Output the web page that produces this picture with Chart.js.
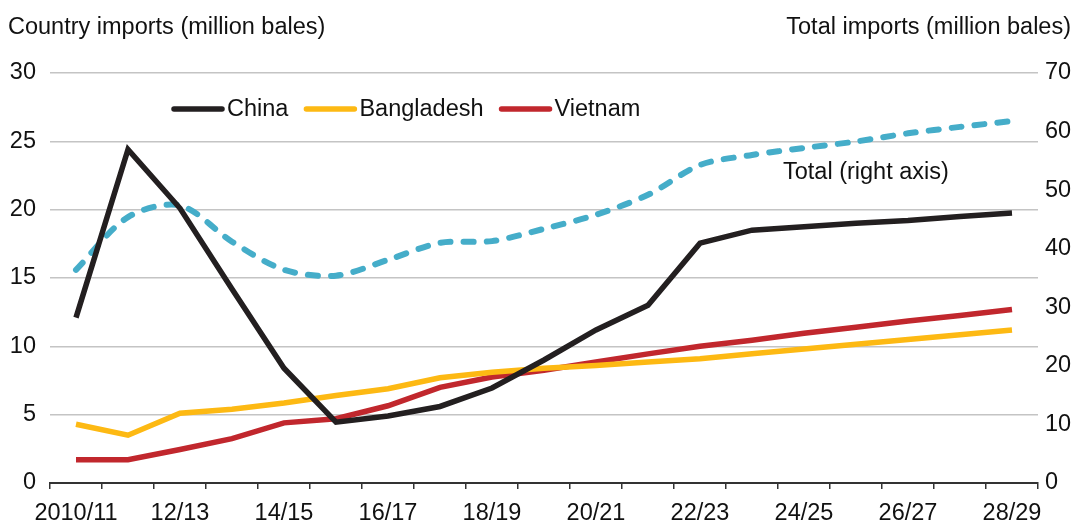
<!DOCTYPE html>
<html>
<head>
<meta charset="utf-8">
<script src="https://cdn.jsdelivr.net/npm/chart.js@4/dist/chart.umd.min.js"></script>
<style>
  html, body { margin: 0; padding: 0; background: #fff; }
  #wrap { position: relative; width: 1075px; height: 525px; }
  canvas { position: absolute; left: 0; top: 0; }
  .ttl { position: absolute; font-family: "Liberation Sans", Arial, Helvetica, sans-serif; font-size: 23.5px; color: #111; white-space: nowrap; line-height: 1; }
</style>
</head>
<body>
<div id="wrap">
  <canvas id="c" width="1075" height="525"></canvas>
  <div class="ttl" style="left:8px; top:15px;">Country imports (million bales)</div>
  <div class="ttl" style="right:4px; top:15px;">Total imports (million bales)</div>
  <div class="ttl" style="left:783px; top:160px;">Total (right axis)</div>
</div>
<script>
const categories = ["2010/11","11/12","12/13","13/14","14/15","15/16","16/17","17/18","18/19","19/20","20/21","21/22","22/23","23/24","24/25","25/26","26/27","27/28","28/29"];
const china      = [12.1, 24.4, 20.1, 14.2, 8.4, 4.45, 4.9, 5.6, 6.95, 9.0, 11.2, 13.0, 17.55, 18.5, 18.75, 19.0, 19.2, 19.5, 19.75];
const bangladesh = [4.3, 3.5, 5.1, 5.4, 5.85, 6.4, 6.9, 7.7, 8.1, 8.4, 8.6, 8.85, 9.1, 9.45, 9.8, 10.15, 10.5, 10.85, 11.2];
const vietnam    = [1.7, 1.7, 2.45, 3.25, 4.4, 4.7, 5.65, 7.0, 7.75, 8.25, 8.85, 9.45, 10.0, 10.45, 10.95, 11.4, 11.85, 12.25, 12.7];
const total      = [36.4, 45.4, 47.4, 41.2, 36.4, 35.4, 38.1, 41.0, 41.3, 43.4, 45.8, 49.2, 54.3, 56.0, 57.2, 58.3, 59.7, 60.8, 61.8];
const leftTicks  = [0, 5, 10, 15, 20, 25, 30];
const rightTicks = [0, 10, 20, 30, 40, 50, 60, 70];

const FONT = { family: '"Liberation Sans", Arial, Helvetica, sans-serif', size: 23.5 };
const TXT = '#111';

const legendPlugin = {
  id: 'customLegend',
  afterDraw(chart) {
    const ctx = chart.ctx;
    ctx.save();
    ctx.font = FONT.size + 'px ' + FONT.family;
    ctx.textBaseline = 'middle';
    let x = 172;
    const y = 109;
    chart.data.datasets.slice(0, 3).forEach((ds) => {
      ctx.strokeStyle = ds.borderColor;
      ctx.lineWidth = 5.5;
      ctx.lineCap = 'round';
      ctx.beginPath();
      ctx.moveTo(x + 2, y);
      ctx.lineTo(x + 50, y);
      ctx.stroke();
      ctx.fillStyle = TXT;
      ctx.fillText(ds.label, x + 55, y + 1);
      x += 55 + ctx.measureText(ds.label).width + 16;
    });
    ctx.restore();
  }
};

new Chart(document.getElementById('c'), {
  type: 'line',
  data: {
    labels: categories,
    datasets: [
      { label: 'China', data: china, borderColor: '#231f20', borderWidth: 5.5, yAxisID: 'y', tension: 0, borderJoinStyle: 'miter' },
      { label: 'Bangladesh', data: bangladesh, borderColor: '#fdb913', borderWidth: 5.5, yAxisID: 'y', tension: 0 },
      { label: 'Vietnam', data: vietnam, borderColor: '#c1272d', borderWidth: 5.5, yAxisID: 'y', tension: 0 },
      { label: 'Total', data: total, borderColor: '#45adc9', borderWidth: 6, yAxisID: 'y1', tension: 0.3, borderDash: [10, 13], borderCapStyle: 'round' }
    ]
  },
  options: {
    responsive: false,
    animation: false,
    devicePixelRatio: 1,
    layout: { padding: { top: 73, left: 0, right: 0, bottom: 0 } },
    elements: { point: { radius: 0, hoverRadius: 0 } },
    plugins: { legend: { display: false }, tooltip: { enabled: false } },
    scales: {
      x: {
        type: 'category',
        offset: true,
        grid: { offset: true, drawOnChartArea: false, drawTicks: true, tickLength: 6, color: '#333', lineWidth: 1.5 },
        border: { display: true, color: '#333', width: 2 },
        ticks: {
          autoSkip: false, maxRotation: 0, minRotation: 0, padding: 10,
          color: TXT, font: FONT,
          callback: (v, i) => (i % 2 === 0 ? categories[i] : '')
        },
        afterFit: (s) => { s.height = 42; }
      },
      y: {
        position: 'left', min: 0, max: 30,
        afterBuildTicks: (s) => { s.ticks = leftTicks.map(v => ({ value: v })); },
        grid: { color: '#c4c4c4', lineWidth: 1.5, drawTicks: false },
        border: { display: false },
        ticks: { color: TXT, font: FONT, padding: 14 },
        afterFit: (s) => { s.width = 50; }
      },
      y1: {
        position: 'right', min: 0, max: 70,
        afterBuildTicks: (s) => { s.ticks = rightTicks.map(v => ({ value: v })); },
        grid: { drawOnChartArea: false, drawTicks: false },
        border: { display: false },
        ticks: { color: TXT, font: FONT, padding: 7 },
        afterFit: (s) => { s.width = 37; }
      }
    }
  },
  plugins: [legendPlugin]
});
</script>
</body>
</html>
